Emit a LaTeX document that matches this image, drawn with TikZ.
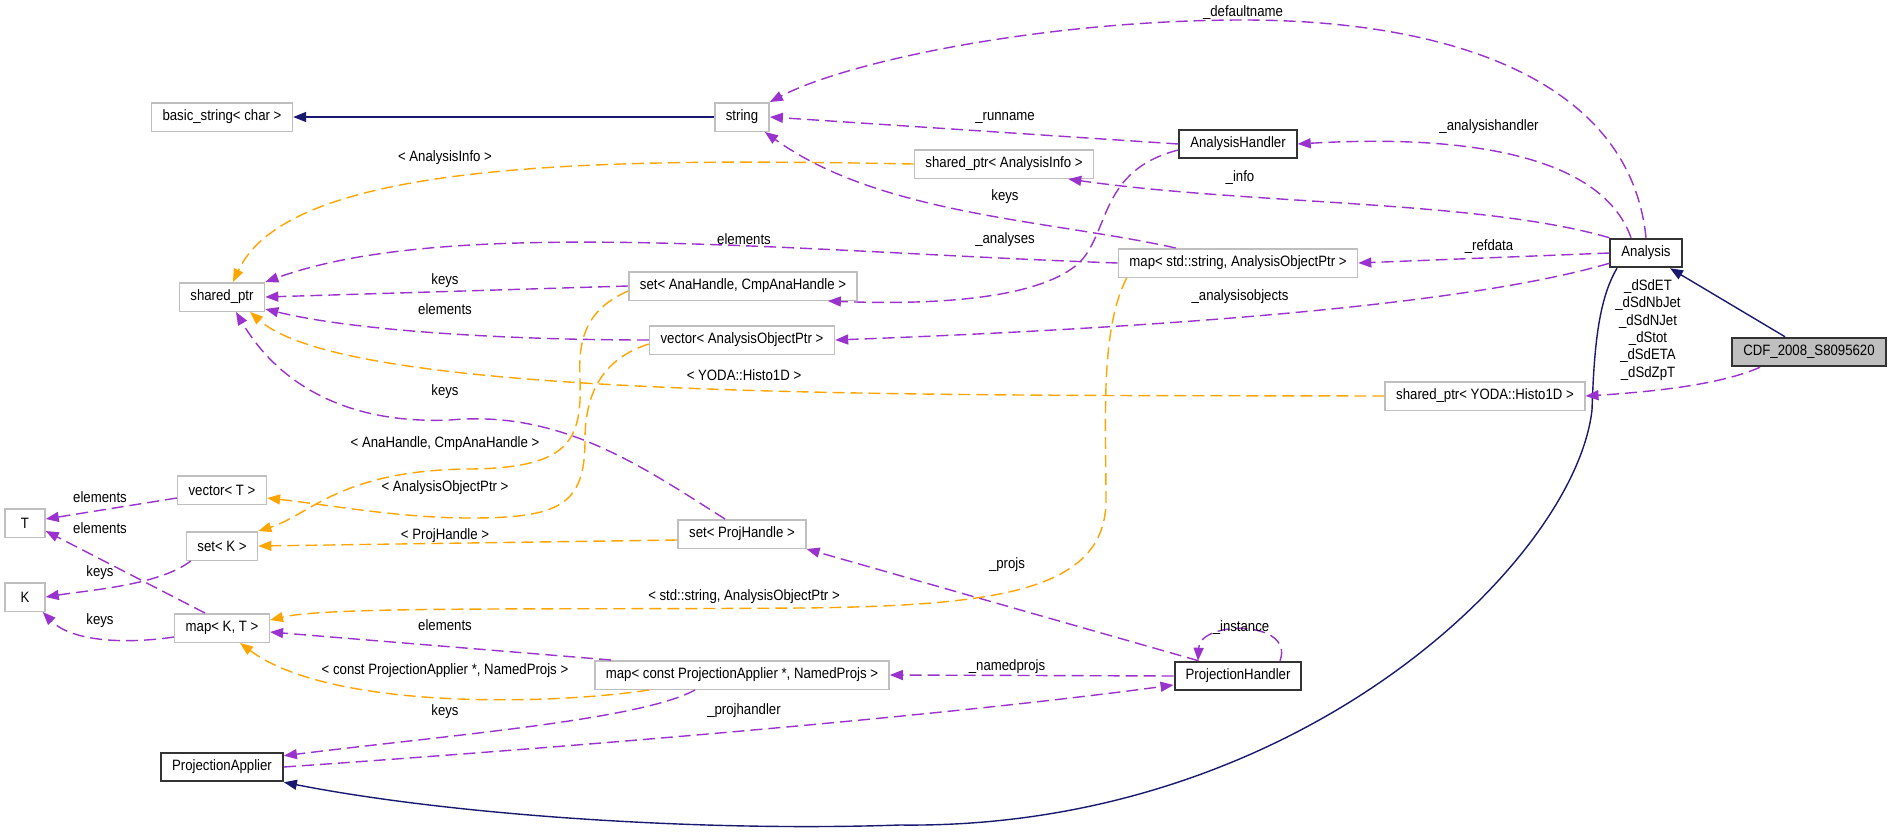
\documentclass[tikz,border=0pt]{standalone}
\usepackage{fontspec}
\setmainfont{Liberation Sans}[FakeStretch=0.88]
\usetikzlibrary{arrows.meta}
\definecolor{orchid}{rgb}{0.604,0.196,0.804}
\definecolor{tmplorange}{rgb}{1,0.647,0}
\definecolor{basenavy}{rgb}{0.098,0.098,0.439}
\definecolor{boxgray}{rgb}{0.749,0.749,0.749}
\begin{document}
\begin{tikzpicture}[x=1pt,y=-1pt,>={Triangle[length=13pt,width=10pt]},
  every node/.style={font=\fontsize{15}{17.4}\selectfont},
  cls/.style={draw=boxgray,line width=1.5pt,fill=white,inner xsep=11pt,inner ysep=0pt,minimum height=28.5pt,minimum width=40pt},
  doc/.style={cls,draw=black!80,line width=2pt},
  member/.style={->,orchid,dash pattern=on 12pt off 6pt,line width=1.4pt},
  tmpl/.style={->,tmplorange,dash pattern=on 12pt off 6pt,line width=1.4pt},
  base/.style={->,basenavy,line width=1.4pt}]
\useasboundingbox (0,0) rectangle (1891,836);
\fill[white] (0,0) rectangle (1891,836);
\node[cls] (bstring) at (222,117) {basic\_string< char >};
\node[cls] (string) at (742,117) {string};
\node[cls] (spainfo) at (1004,164) {shared\_ptr< AnalysisInfo >};
\node[doc] (ahandler) at (1238,144) {AnalysisHandler};
\node[cls] (sptr) at (222,297) {shared\_ptr};
\node[cls] (setana) at (743,286) {set< AnaHandle, CmpAnaHandle >};
\node[cls] (mapstr) at (1238,263) {map< std::string, AnalysisObjectPtr >};
\node[doc] (analysis) at (1646,253) {Analysis};
\node[cls] (vecaop) at (742,340) {vector< AnalysisObjectPtr >};
\node[doc,fill=boxgray] (cdf) at (1809,352) {CDF\_2008\_S8095620};
\node[cls] (spyoda) at (1485,396) {shared\_ptr< YODA::Histo1D >};
\node[cls] (vect) at (222,490) {vector< T >};
\node[cls] (T) at (25,523) {T};
\node[cls] (setk) at (222,546) {set< K >};
\node[cls] (K) at (25,597) {K};
\node[cls] (setproj) at (742,534) {set< ProjHandle >};
\node[cls] (mapkt) at (222,628) {map< K, T >};
\node[cls] (mapconst) at (742,675) {map< const ProjectionApplier *, NamedProjs >};
\node[doc] (phandler) at (1238,676) {ProjectionHandler};
\node[doc] (papplier) at (222,767) {ProjectionApplier};
\draw[base] (string.west) -- (bstring.east);
\draw[base] ([xshift=-24pt]cdf.north) -- ([xshift=24pt]analysis.south);
\draw[base] ([xshift=-29pt]analysis.south) .. controls (1598,300) and (1594,350) .. (1592,410) .. controls (1575,560) and (1300,830) .. (900,825) .. controls (700,832) and (450,815) .. (papplier.south east);
\draw[member] (analysis.north) .. controls (1630,80) and (1450,20) .. (1243,20) .. controls (1050,20) and (850,60) .. (string.north east);
\draw[member] (ahandler.west) -- (string.east);
\draw[member] ([xshift=-15pt]analysis.north) .. controls (1600,150) and (1450,135) .. (ahandler.east);
\draw[member] (analysis.north west) .. controls (1480,200) and (1250,205) .. ([xshift=-26pt]spainfo.south east);
\draw[member] ([xshift=58pt]mapstr.north west) .. controls (1050,220) and (880,215) .. ([xshift=-5pt]string.south east);
\draw[member] (mapstr.west) .. controls (800,252) and (450,215) .. (sptr.north east);
\draw[member] (analysis.west) -- (mapstr.east);
\draw[member] ([yshift=-6pt]ahandler.west) .. controls (1100,170) and (1110,230) .. (1080,262) .. controls (1040,300) and (930,305) .. ([xshift=-30pt]setana.south east);
\draw[member] ([yshift=5pt]analysis.south west) .. controls (1450,310) and (1100,330) .. (vecaop.east);
\draw[member] (setana.west) -- (sptr.east);
\draw[member] (vecaop.west) .. controls (500,340) and (350,330) .. ([yshift=3pt]sptr.south east);
\draw[member] ([xshift=-17pt]setproj.north) .. controls (640,465) and (560,410) .. (450,420) .. controls (330,425) and (270,370) .. ([xshift=14pt]sptr.south);
\draw[member] ([xshift=-17pt]mapkt.north) -- ([yshift=7pt]T.south east);
\draw[member] ([yshift=-8pt]vect.west) -- ([yshift=4pt]T.east);
\draw[member] ([xshift=5pt]setk.south west) .. controls (160,585) and (90,590) .. (K.east);
\draw[member] ([yshift=-9pt]mapkt.west) .. controls (120,645) and (70,640) .. ([xshift=-3pt]K.south east);
\draw[member] ([xshift=17pt]mapconst.north west) -- ([yshift=-4pt]mapkt.east);
\draw[member] ([xshift=-47pt]mapconst.south) .. controls (640,720) and (450,735) .. ([yshift=-4pt]papplier.north east);
\draw[member] (phandler.west) -- (mapconst.east);
\draw[member] ([xshift=25pt]phandler.north west) -- (setproj.south east);
\draw[member] ([xshift=42pt]phandler.north) .. controls (1295,620) and (1200,620) .. ([xshift=-40pt]phandler.north);
\draw[member] (papplier.east) .. controls (600,745) and (950,715) .. ([yshift=-9pt]phandler.west);
\draw[member] ([xshift=-49pt]cdf.south) .. controls (1720,385) and (1650,392) .. (spyoda.east);
\draw[tmpl] (spainfo.west) .. controls (600,158) and (290,160) .. ([xshift=11pt]sptr.north);
\draw[tmpl] (spyoda.west) .. controls (900,395) and (350,400) .. ([xshift=28pt]sptr.south);
\draw[tmpl] ([yshift=-5pt]setana.west) .. controls (585,310) and (578,340) .. (580,380) .. controls (582,440) and (570,468) .. (470,469) .. controls (340,470) and (310,515) .. (setk.north east);
\draw[tmpl] ([yshift=-4pt]vecaop.west) .. controls (605,358) and (585,390) .. (585,440) .. controls (585,505) and (560,518) .. (470,518) .. controls (400,518) and (330,505) .. ([yshift=-8pt]vect.east);
\draw[tmpl] ([yshift=-6pt]setproj.west) -- (setk.east);
\draw[tmpl] ([xshift=9pt]mapstr.south west) .. controls (1100,330) and (1106,420) .. (1106,500) .. controls (1106,590) and (1000,606) .. (800,608) .. controls (550,610) and (330,606) .. ([yshift=8pt]mapkt.east);
\draw[tmpl] ([xshift=55pt]mapconst.south west) .. controls (550,705) and (330,710) .. ([xshift=18pt]mapkt.south);
\node (l_defaultname) at (1243,13) {\_defaultname};
\node (l_runname) at (1005,118) {\_runname};
\node (l_analysishandler) at (1489,127) {\_analysishandler};
\node (l_info) at (1240,178) {\_info};
\node (l_keysmap) at (1005,197) {keys};
\node (l_analyses) at (1005,240) {\_analyses};
\node (l_refdata) at (1489,247) {\_refdata};
\node (l_analysisobjects) at (1240,297) {\_analysisobjects};
\node[align=center] (l_histos) at (1648,330) {\_dSdET\\\_dSdNbJet\\\_dSdNJet\\\_dStot\\\_dSdETA\\\_dSdZpT};
\node (l_ainfo) at (445,158) {< AnalysisInfo >};
\node (l_elemmap) at (744,239) {elements};
\node (l_keysset) at (445,281) {keys};
\node (l_elemvec) at (445,309) {elements};
\node (l_yoda) at (744,375) {< YODA::Histo1D >};
\node (l_keysproj) at (445,392) {keys};
\node (l_anahandle) at (445,444) {< AnaHandle, CmpAnaHandle >};
\node (l_aop) at (445,488) {< AnalysisObjectPtr >};
\node (l_elemvt) at (100,497) {elements};
\node (l_elemmt) at (100,528) {elements};
\node (l_projhandle) at (445,536) {< ProjHandle >};
\node (l_keyssk) at (100,573) {keys};
\node (l_projs) at (1007,565) {\_projs};
\node (l_stdstring) at (744,597) {< std::string, AnalysisObjectPtr >};
\node (l_keysmk) at (100,621) {keys};
\node (l_elemconst) at (445,625) {elements};
\node (l_instance) at (1241,628) {\_instance};
\node (l_namedprojs) at (1007,667) {\_namedprojs};
\node (l_constpa) at (445,671) {< const ProjectionApplier *, NamedProjs >};
\node (l_keysconst) at (445,712) {keys};
\node (l_projhandler) at (744,711) {\_projhandler};
\end{tikzpicture}
\end{document}
